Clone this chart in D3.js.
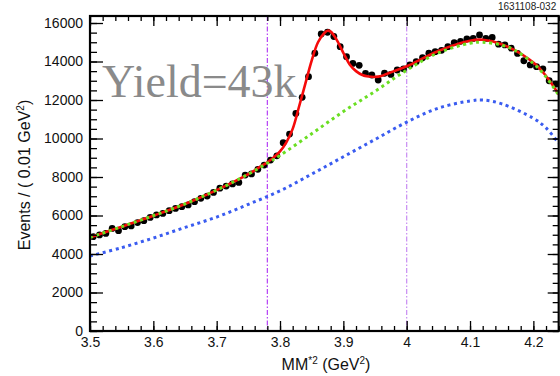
<!DOCTYPE html>
<html><head><meta charset="utf-8">
<script src="https://cdn.jsdelivr.net/npm/d3@7/dist/d3.min.js"></script>
<style>
html,body{margin:0;padding:0;background:#fff;}
svg{display:block;font-family:"Liberation Sans",Arial,Helvetica,sans-serif;}
</style></head><body>
<svg id="c" width="560" height="376"></svg>
<script>
// ---- data ----
const binCenters = [3.505,3.515,3.525,3.535,3.545,3.555,3.565,3.575,3.585,3.595,
  3.605,3.615,3.625,3.635,3.645,3.655,3.665,3.675,3.685,3.695,
  3.705,3.715,3.725,3.735,3.745,3.755,3.765,3.775,3.785,3.795,
  3.805,3.815,3.825,3.835,3.845,3.855,3.865,3.875,3.885,3.895,
  3.905,3.915,3.925,3.935,3.945,3.955,3.965,3.975,3.985,3.995,
  4.005,4.015,4.025,4.035,4.045,4.055,4.065,4.075,4.085,4.095,
  4.105,4.115,4.125,4.135,4.145,4.155,4.165,4.175,4.185,4.195,
  4.205,4.215,4.225,4.235];
const events = [4900,4990,5070,5330,5210,5420,5460,5630,5730,5900,
  6030,6110,6250,6370,6460,6550,6720,6890,7010,7200,
  7420,7530,7640,7720,8100,8160,8400,8620,8880,9100,
  9780,10230,11300,12140,13210,14430,15430,15520,15300,14770,
  14250,13900,13800,13380,13300,13040,13390,13330,13560,13620,
  13820,13990,14200,14430,14510,14580,14770,14980,15050,15170,
  15200,15380,15200,15250,14900,14860,14690,14420,14040,13820,
  13730,13620,13000,12820];

const totalFitX = [3.50,3.55,3.60,3.65,3.70,3.75,3.77,3.78,3.79,3.80,3.81,3.82,3.83,3.84,3.85,3.86,3.87,3.875,3.88,3.89,3.90,3.91,3.92,3.93,3.94,3.95,3.96,3.97,3.98,4.00,4.05,4.10,4.12,4.15,4.20,4.22,4.24];
const totalFit  = [4860,5420,5990,6600,7320,8150,8560,8760,9020,9330,9800,10500,11650,12850,14050,15000,15480,15600,15550,15100,14450,13850,13500,13300,13220,13200,13250,13380,13500,13750,14550,15080,15130,14900,13950,13250,12300];

const greenX = [3.50,3.55,3.60,3.65,3.70,3.75,3.78,3.80,3.85,3.90,3.95,4.00,4.05,4.10,4.12,4.15,4.17,4.20,4.22,4.24];
const greenBkg = [4860,5420,5990,6600,7320,8150,8720,9120,10250,11400,12450,13550,14450,14950,15000,14850,14600,13900,13200,12250];

const blueX = [3.50,3.55,3.60,3.65,3.70,3.75,3.80,3.85,3.90,3.95,4.00,4.05,4.10,4.12,4.15,4.20,4.22,4.24];
const blueBkg = [3900,4330,4830,5380,5920,6580,7280,8150,9050,9950,10850,11580,11950,12000,11800,11050,10550,9750];

const xMajorTicks = [3.5,3.6,3.7,3.8,3.9,4.0,4.1,4.2];
const xTickLabels = ["3.5","3.6","3.7","3.8","3.9","4","4.1","4.2"];
const yMajorTicks = [0,2000,4000,6000,8000,10000,12000,14000,16000];
const yTickLabels = ["0","2000","4000","6000","8000","10000","12000","14000","16000"];
const cutLines = [3.78, 4.0];
const yieldLabel = "Yield=43k";
const figId = "1631108-032";

// ---- layout ----
const L=90, R=558.7, T=16, B=331;
const x = d3.scaleLinear().domain([3.5,4.24]).range([L,R]);
const y = d3.scaleLinear().domain([0,16364]).range([B,T]);
const svg = d3.select("#c");

const xMinor = d3.range(0,38).map(i=>3.5+i*0.02);
const yMinor = d3.range(0,33).map(i=>i*500);

const clip = svg.append("defs").append("clipPath").attr("id","pc")
  .append("rect").attr("x",L).attr("y",T).attr("width",R-L).attr("height",B-T);
const plot = svg.append("g").attr("clip-path","url(#pc)");

// cut lines
plot.selectAll("line.cut").data(cutLines).join("line")
  .attr("x1",d=>x(d)).attr("x2",d=>x(d)).attr("y1",T).attr("y2",B)
  .attr("stroke",(d,i)=>i===0?"#b540f5":"#c88cf2").attr("stroke-width",1.2)
  .attr("stroke-dasharray","5,2,1.5,2");

// data points
plot.selectAll("circle.pt").data(binCenters).join("circle")
  .attr("cx",d=>x(d)).attr("cy",(d,i)=>y(events[i])).attr("r",3.4).attr("fill","#000");

const line = d3.line().curve(d3.curveCatmullRom.alpha(0.5));
plot.append("path").attr("d",line(totalFitX.map((d,i)=>[x(d),y(totalFit[i])])))
  .attr("fill","none").attr("stroke","#f50a0a").attr("stroke-width",2.6);
plot.append("path").attr("d",line(blueX.map((d,i)=>[x(d),y(blueBkg[i])])))
  .attr("fill","none").attr("stroke","#3a5cf0").attr("stroke-width",3).attr("stroke-dasharray","3,3.6");
plot.append("path").attr("d",line(greenX.map((d,i)=>[x(d),y(greenBkg[i])])))
  .attr("fill","none").attr("stroke","#6ade22").attr("stroke-width",3).attr("stroke-dasharray","3,3.6");

// axes
function styleAxis(g){ g.select(".domain").remove(); g.selectAll("line").attr("stroke","#000").attr("stroke-width",1.3); }
svg.append("g").attr("transform",`translate(0,${B})`)
  .call(d3.axisBottom(x).tickValues(xMinor).tickSize(-5).tickFormat("")).call(styleAxis);
svg.append("g").attr("transform",`translate(0,${B})`)
  .call(d3.axisBottom(x).tickValues(xMajorTicks).tickSize(-10).tickPadding(6).tickFormat((d,i)=>xTickLabels[i]))
  .call(styleAxis).selectAll("text").attr("font-size",14).attr("fill","#111").attr("font-family","Liberation Sans, Arial, sans-serif");
svg.append("g").attr("transform",`translate(0,${T})`)
  .call(d3.axisTop(x).tickValues(xMinor).tickSize(-5).tickFormat("")).call(styleAxis);
svg.append("g").attr("transform",`translate(0,${T})`)
  .call(d3.axisTop(x).tickValues(xMajorTicks).tickSize(-10).tickFormat("")).call(styleAxis);
svg.append("g").attr("transform",`translate(${L},0)`)
  .call(d3.axisLeft(y).tickValues(yMinor).tickSize(-7).tickFormat("")).call(styleAxis);
svg.append("g").attr("transform",`translate(${L},0)`)
  .call(d3.axisLeft(y).tickValues(yMajorTicks).tickSize(-13).tickPadding(7).tickFormat((d,i)=>yTickLabels[i]))
  .call(styleAxis).selectAll("text").attr("font-size",14).attr("fill","#111").attr("font-family","Liberation Sans, Arial, sans-serif");
svg.append("g").attr("transform",`translate(${R},0)`)
  .call(d3.axisRight(y).tickValues(yMinor).tickSize(-6).tickFormat("")).call(styleAxis);
svg.append("g").attr("transform",`translate(${R},0)`)
  .call(d3.axisRight(y).tickValues(yMajorTicks).tickSize(-11).tickFormat("")).call(styleAxis);

// frame
svg.append("rect").attr("x",L).attr("y",T).attr("width",R-L).attr("height",B-T)
  .attr("fill","none").attr("stroke","#000").attr("stroke-width",2.2);

// titles
const xt = svg.append("text").attr("x",326).attr("y",370).attr("text-anchor","middle")
  .attr("font-size",16).attr("fill","#111");
xt.append("tspan").text("MM");
xt.append("tspan").attr("font-size",10).attr("dy",-6).text("*2");
xt.append("tspan").attr("dy",6).text(" (GeV");
xt.append("tspan").attr("font-size",10).attr("dy",-6).text("2");
xt.append("tspan").attr("dy",6).text(")");

const yt = svg.append("text").attr("transform","translate(30,175) rotate(-90)").attr("text-anchor","middle")
  .attr("font-size",16).attr("fill","#111");
yt.append("tspan").text("Events / ( 0.01 GeV");
yt.append("tspan").attr("font-size",10).attr("dy",-6).text("2");
yt.append("tspan").attr("dy",6).text(")");

svg.append("text").attr("x",102).attr("y",97).attr("font-family","Liberation Serif, Times New Roman, serif")
  .attr("font-size",46).attr("fill","#8a8a8a").text(yieldLabel);

svg.append("text").attr("x",498).attr("y",9.5).attr("font-size",10).attr("fill","#222").text(figId);
</script>
</body></html>
